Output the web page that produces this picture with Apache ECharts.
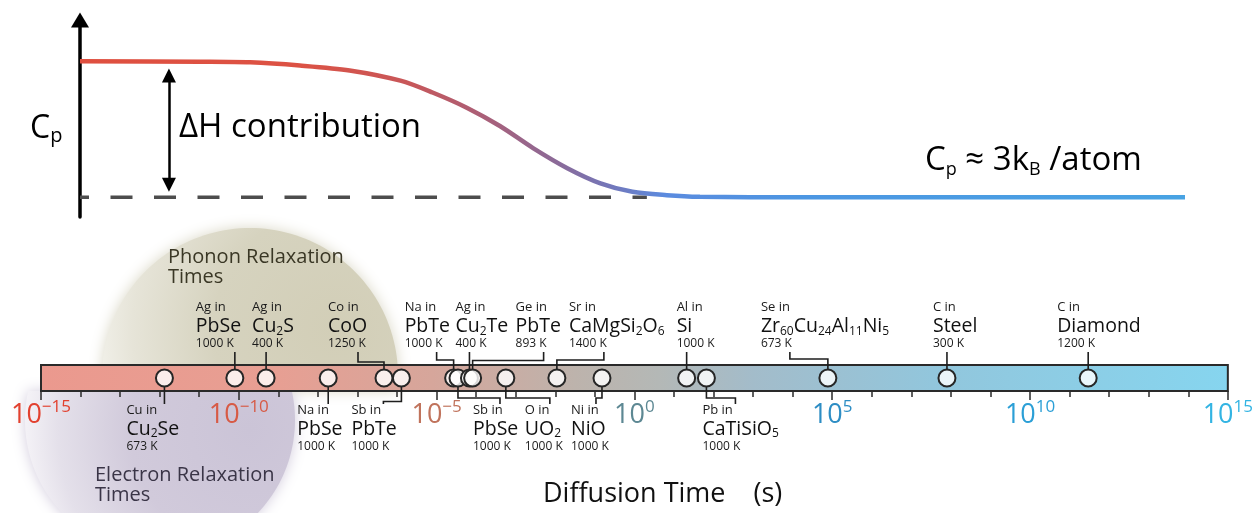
<!DOCTYPE html>
<html><head><meta charset="utf-8">
<script src="https://cdn.jsdelivr.net/npm/echarts@6/dist/echarts.min.js"></script>
<style>html,body{margin:0;padding:0;background:#fff}#c{width:1256px;height:513px}</style>
</head><body><div id="c"></div>
<script>
const FONT = '"Open Sans", "Noto Sans", sans-serif';

// ---------- Data ----------
// Top schematic: Cp vs. time (arbitrary units 0..100 along the curve, Cp in units of the plot height)
const curveX = [0, 10.9, 15.4, 19.9, 24.4, 29.0, 31.9, 35.0, 38.0, 41.0, 44.1, 47.1, 50.0, 53.1, 56.1, 65.2, 100];
const curveY = [0.79, 0.788, 0.785, 0.769, 0.744, 0.692, 0.632, 0.555, 0.462, 0.350, 0.248, 0.171, 0.128, 0.111, 0.103, 0.100, 0.100];
const baselineY = 0.1;          // Cp ≈ 3kB/atom
const dashedEndX = 51.3;

// Bottom: diffusion times (log10 seconds)
const solutes = ['Cu in','Ag in','Ag in','Na in','Co in','Sb in','Na in','Sb in','Ag in','Ge in','O in','Sr in','Ni in','Al in','Pb in','Se in','C in','C in'];
const hosts = ['Cu2Se','PbSe','Cu2S','PbSe','CoO','PbTe','PbTe','PbSe','Cu2Te','PbTe','UO2','CaMgSi2O6','NiO','Si','CaTiSiO5','Zr60Cu24Al11Ni5','Steel','Diamond'];
const temps = ['673 K','1000 K','400 K','1000 K','1250 K','1000 K','1000 K','1000 K','400 K','893 K','1000 K','1400 K','1000 K','1000 K','1000 K','673 K','300 K','1200 K'];
const logTimes = [-11.88, -10.10, -9.31, -7.74, -6.33, -5.89, -4.57, -4.46, -4.17, -4.09, -3.25, -1.96, -0.82, 1.32, 1.82, 4.89, 7.90, 11.47];

const tickExps = [-15, -10, -5, 0, 5, 10, 15];
const tickColors = ['#e2412f', '#d75a45', '#c0735c', '#5d8893', '#2d8dc4', '#2b9fd6', '#33b4e3'];

// ---------- Layout (label placement relative to each marker) ----------
// [side (1 above / -1 below), label left dx, connector dx, elbow dy]
const labelLayout = [
  [-1, -38, 0, 0],
  [1, -39, 0, 0],
  [1, -14, 0, 0],
  [-1, -31, 0, 0],
  [1, -56, -26, -16],
  [-1, -50, -18, 23.5],
  [1, -49, -17, -18],
  [-1, 15, 42, 20],
  [1, -14, 0, 0],
  [1, 43, 71, -17.5],
  [-1, 19, 44, 20],
  [1, 12, 47, -18],
  [-1, -31, -6, 20],
  [1, -10, 0, 0],
  [-1, -4, 29, 20],
  [1, -67, -38, -19],
  [1, -14, 0, 0],
  [1, -31, 0, 0]
];

function richFormula(s) {
  return s.split(/(\d+)/).filter(t => t.length).map(t => /^\d+$/.test(t) ? '{s|' + t + '}' : '{m|' + t + '}').join('');
}

const chart = echarts.init(document.getElementById('c'));

const barGradient = new echarts.graphic.LinearGradient(0, 0, 1, 0, [
  { offset: 0, color: '#eb998e' },
  { offset: 0.2, color: '#e79f93' },
  { offset: 0.33, color: '#d6a69b' },
  { offset: 0.45, color: '#bdb3ac' },
  { offset: 0.52, color: '#b4b8b6' },
  { offset: 0.6, color: '#a3bcca' },
  { offset: 0.75, color: '#92c6dc' },
  { offset: 1, color: '#86d5ef' }
]);

const curveGradient = new echarts.graphic.LinearGradient(0, 0, 1, 0, [
  { offset: 0, color: '#df4f3f' },
  { offset: 0.2, color: '#dc5244' },
  { offset: 0.3, color: '#c7575a' },
  { offset: 0.37, color: '#a8607a' },
  { offset: 0.43, color: '#8c6a97' },
  { offset: 0.48, color: '#7377ba' },
  { offset: 0.53, color: '#5b8bdf' },
  { offset: 0.65, color: '#4c96e2' },
  { offset: 1, color: '#48a3e3' }
]);

// decorative relaxation-time regions (circle clipped at the bar)
function circlePts(cx, cy, r, clampFn) {
  const pts = [];
  for (let k = 0; k < 180; k++) {
    const a = k / 180 * Math.PI * 2;
    pts.push([cx + r * Math.cos(a), clampFn(cy + r * Math.sin(a))]);
  }
  return pts;
}
const phononPts = circlePts(250, 376, 148, y => Math.min(y, 391));
const electronPts = circlePts(160, 420, 135, y => Math.max(y, 391));

const axisRich = {};
tickExps.forEach((e, k) => {
  axisRich['b' + k] = { fontSize: 27, fontFamily: FONT, color: tickColors[k], lineHeight: 30, verticalAlign: 'bottom' };
  axisRich['s' + k] = { fontSize: 17, fontFamily: FONT, color: tickColors[k], lineHeight: 28, verticalAlign: 'top' };
});

const option = {
  animation: false,
  backgroundColor: '#fff',
  grid: [
    { left: 80, right: 71, top: 20, bottom: 296 },
    { left: 41, right: 25, top: 365, height: 26, show: true, backgroundColor: barGradient, borderColor: '#2a2a2a', borderWidth: 2, z: 1 }
  ],
  xAxis: [
    { gridIndex: 0, type: 'value', min: 0, max: 100, show: false },
    {
      gridIndex: 1, type: 'value', min: -15, max: 15, interval: 1,
      axisLine: { show: false },
      axisTick: { show: true, length: 6, lineStyle: { color: '#2a2a2a', width: 1.5 } },
      splitLine: { show: true, lineStyle: { color: 'rgba(90,90,90,0.10)', width: 1 } },
      axisLabel: {
        margin: 8,
        formatter: v => {
          if (v % 5 !== 0) return '';
          const k = tickExps.indexOf(v);
          const exp = v < 0 ? '\u2212' + Math.abs(v) : String(v);
          return '{b' + k + '|10}{s' + k + '|' + exp + '}';
        },
        rich: axisRich
      }
    },
    {
      gridIndex: 1, type: 'value', min: -15, max: 15, interval: 5, position: 'bottom',
      axisLine: { show: false }, axisLabel: { show: false }, splitLine: { show: false },
      axisTick: { show: true, length: 9, lineStyle: { color: '#2a2a2a', width: 1.5 } }
    }
  ],
  yAxis: [
    {
      gridIndex: 0, type: 'value', min: 0, max: 1,
      axisLine: { show: true, symbol: ['none', 'triangle'], symbolSize: [18, 15], lineStyle: { color: '#000', width: 3.5 } },
      axisTick: { show: false }, axisLabel: { show: false }, splitLine: { show: false }
    },
    { gridIndex: 1, type: 'value', min: 0, max: 1, show: false }
  ],
  graphic: [
    { type: 'polygon', z: -5, silent: true, shape: { points: phononPts },
      style: { fill: new echarts.graphic.RadialGradient(335, 330, 270, [
        { offset: 0, color: '#d2ceb7' }, { offset: 0.45, color: '#d6d3bf' }, { offset: 0.75, color: '#e6e4d8' }, { offset: 1, color: '#fbfbf8' }
      ], true), shadowBlur: 14, shadowColor: 'rgba(214,211,192,0.9)' } },
    { type: 'polygon', z: -5, silent: true, shape: { points: electronPts },
      style: { fill: new echarts.graphic.RadialGradient(250, 430, 240, [
        { offset: 0, color: '#cbc4d7' }, { offset: 0.5, color: '#d1cadb' }, { offset: 0.8, color: '#e4e0ea' }, { offset: 1, color: '#fbfafc' }
      ], true), shadowBlur: 14, shadowColor: 'rgba(205,198,217,0.9)' } },
    { type: 'text', z: 10, silent: true, style: { text: 'Phonon Relaxation\nTimes', x: 168, y: 247, fill: '#3a3725', font: '20px ' + FONT, lineHeight: 20 } },
    { type: 'text', z: 10, silent: true, style: { text: 'Electron Relaxation\nTimes', x: 95, y: 465, fill: '#3a3547', font: '20px ' + FONT, lineHeight: 20 } },
    { type: 'text', z: 10, silent: true, style: {
      text: '{c|C}{p|p}', x: 30, y: 112,
      rich: { c: { fontSize: 32, fontFamily: FONT, fill: '#000', color: '#000', lineHeight: 34 }, p: { fontSize: 20, fontFamily: FONT, fill: '#000', color: '#000', lineHeight: 22, verticalAlign: 'bottom' } } } },
    { type: 'text', z: 10, silent: true, style: { text: '\u0394H contribution', x: 179, y: 111, fill: '#000', font: '33px ' + FONT } },
    { type: 'text', z: 10, silent: true, style: {
      text: '{c|C}{p|p}{c| \u2248 3k}{p|B}{c| /atom}', x: 925, y: 143,
      rich: { c: { fontSize: 33, fontFamily: FONT, fill: '#000', color: '#000', lineHeight: 36 }, p: { fontSize: 18, fontFamily: FONT, fill: '#000', color: '#000', lineHeight: 21, verticalAlign: 'bottom' } } } },
    { type: 'text', z: 10, silent: true, style: { text: 'Diffusion Time    (s)', x: 543, y: 494, fill: '#111', font: '27px ' + FONT, verticalAlign: 'middle' } }
  ],
  series: [
    {
      type: 'line', xAxisIndex: 0, yAxisIndex: 0, z: 3, silent: true,
      data: [[0, baselineY], [dashedEndX, baselineY]], symbol: 'none',
      lineStyle: { color: '#4d4d4d', width: 3.5, type: [22, 21.5], dashOffset: 13 }
    },
    {
      type: 'line', xAxisIndex: 0, yAxisIndex: 0, z: 4, silent: true,
      data: curveX.map((x, i) => [x, curveY[i]]), symbol: 'none', smooth: 0.3,
      lineStyle: { color: curveGradient, width: 4.5 },
      markLine: {
        silent: true, symbol: ['triangle', 'triangle'], symbolSize: [14, 14],
        lineStyle: { color: '#000', width: 2.5, type: 'solid' }, label: { show: false },
        data: [[{ coord: [8.05, 0.718] }, { coord: [8.05, 0.164] }]]
      }
    },
    {
      type: 'custom', xAxisIndex: 1, yAxisIndex: 1, z: 4, silent: true, clip: false,
      data: logTimes.map((v, i) => [v, i]),
      encode: { x: 0 },
      renderItem: (params, api) => {
        const i = params.dataIndex;
        const p = api.coord([api.value(0), 0.5]);
        const cx = p[0], cy = p[1];
        const L = labelLayout[i];
        const side = L[0], ldx = L[1], cdx = L[2], edy = L[3];
        const r = 8.5;
        let pts;
        if (side > 0) {
          const y0 = cy - r, yEnd = cy - 26;
          pts = cdx === 0 ? [[cx, y0], [cx, yEnd]] : [[cx, y0], [cx, cy + edy], [cx + cdx, cy + edy], [cx + cdx, yEnd]];
        } else {
          const y0 = cy + r, yEnd = cy + 26;
          pts = cdx === 0 ? [[cx, y0], [cx, yEnd]] : [[cx, y0], [cx, cy + edy], [cx + cdx, cy + edy], [cx + cdx, yEnd]];
        }
        const lx = cx + ldx;
        const ys = side > 0 ? [cy - 71, cy - 51.5, cy - 34.5] : [cy + 32, cy + 51, cy + 69];
        return {
          type: 'group',
          children: [
            { type: 'polyline', shape: { points: pts }, style: { stroke: '#1e1e1e', lineWidth: 1.6, fill: 'none' } },
            { type: 'text', style: { text: solutes[i], x: lx, y: ys[0], fill: '#1a1a1a', font: '13px ' + FONT, verticalAlign: 'middle', align: 'left' } },
            { type: 'text', style: { text: richFormula(hosts[i]), x: lx, y: ys[1], verticalAlign: 'middle', align: 'left',
              rich: { m: { fontSize: 19.5, fontFamily: FONT, fill: '#111', color: '#111', lineHeight: 22 },
                      s: { fontSize: 12, fontFamily: FONT, fill: '#111', color: '#111', lineHeight: 18, verticalAlign: 'bottom' } } } },
            { type: 'text', style: { text: temps[i], x: lx, y: ys[2], fill: '#1a1a1a', font: '12px ' + FONT, verticalAlign: 'middle', align: 'left' } }
          ]
        };
      }
    },
    {
      type: 'scatter', xAxisIndex: 1, yAxisIndex: 1, z: 6, silent: true,
      data: logTimes.map(v => [v, 0.5]), symbol: 'circle', symbolSize: 17,
      itemStyle: { color: 'rgba(255,255,255,0.82)', borderColor: '#262626', borderWidth: 2, opacity: 1 }
    }
  ]
};
chart.setOption(option);
</script>
</body></html>
